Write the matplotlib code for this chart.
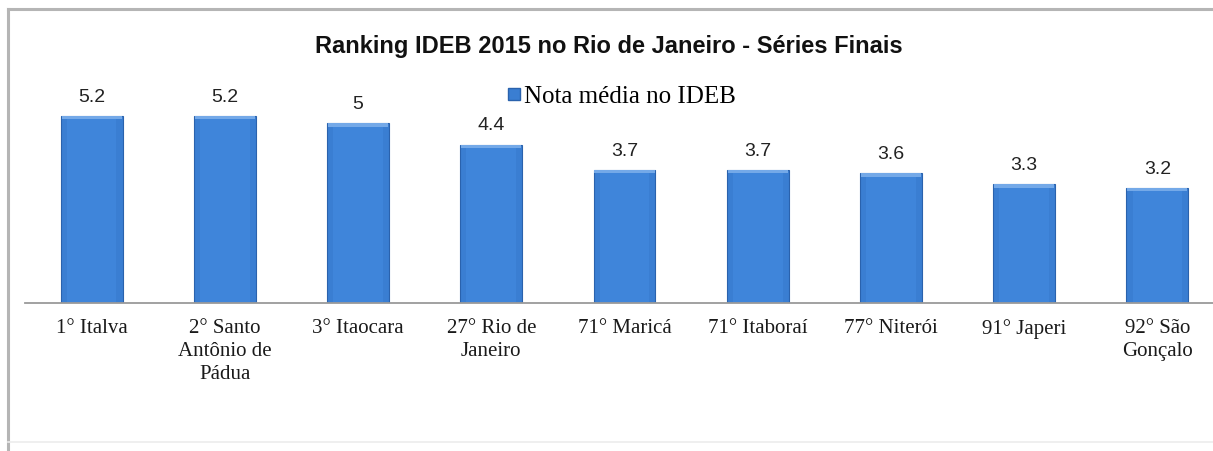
import matplotlib
matplotlib.use("Agg")
import matplotlib.pyplot as plt
from matplotlib.lines import Line2D

categories = ["1° Italva", "2° Santo\nAntônio de\nPádua", "3° Itaocara", "27° Rio de\nJaneiro",
              "71° Maricá", "71° Itaboraí", "77° Niterói", "91° Japeri", "92° São\nGonçalo"]
values = [5.2, 5.2, 5.0, 4.4, 3.7, 3.7, 3.6, 3.3, 3.2]
value_labels = ["5.2", "5.2", "5", "4.4", "3.7", "3.7", "3.6", "3.3", "3.2"]
series_name = "Nota média no IDEB"
title = "Ranking IDEB 2015 no Rio de Janeiro - Séries Finais"

W, H = 1213, 452
fig = plt.figure(figsize=(W / 100, H / 100), dpi=100)
fig.patch.set_facecolor("white")

# outer frame
fig.add_artist(Line2D([8 / W, 8 / W], [0, 1 - 10 / H], color="#b5b5b5", lw=2.2))
fig.add_artist(Line2D([8 / W, 1], [1 - 10 / H, 1 - 10 / H], color="#b5b5b5", lw=2.2))
fig.add_artist(Line2D([8 / W, 1], [1 - 443 / H, 1 - 443 / H], color="#ececec", lw=1.2))

ax = fig.add_axes([25 / W, (H - 304) / H, 1199 / W, 216 / H])
ax.set_xlim(-0.5, len(values) - 0.5)
ax.set_ylim(0, 6)

x = list(range(len(values)))
bw = 0.465
ax.bar(x, values, width=bw, color="#3a7ed2", edgecolor="#2a62ad", linewidth=0.8, zorder=2)
ax.bar(x, values, width=bw * 0.8, color="#3f85da", edgecolor="none", zorder=2.5)
# lighter bevel on top of each bar
ax.bar(x, [0.1] * len(values), bottom=[v - 0.1 for v in values], width=bw * 0.97,
       color="#74a9e8", edgecolor="none", zorder=3)

for xi, v, lab in zip(x, values, value_labels):
    ax.annotate(lab, (xi, v), xytext=(0, 8), textcoords="offset points",
                ha="center", va="bottom", fontsize=14, family="Liberation Sans", color="#222222")

for s in ["top", "right", "left"]:
    ax.spines[s].set_visible(False)
ax.spines["bottom"].set_color("#9a9a9a")
ax.spines["bottom"].set_linewidth(1.3)
ax.set_yticks([])
ax.set_xticks(x)
ax.set_xticklabels(categories, family="Liberation Serif", fontsize=15, color="#1a1a1a",
                   linespacing=1.28)
ax.tick_params(axis="x", length=0, pad=11)
ax.patch.set_alpha(0)

fig.text(609 / W, 1 - 46 / H, title, ha="center", va="center", fontsize=17,
         fontweight="bold", family="Liberation Sans", color="#111111")

handle = Line2D([], [], marker="s", linestyle="none", markersize=8,
                markerfacecolor="#3a7ed2", markeredgecolor="#2a62ad")
fig.legend([handle], [series_name], loc="center",
           bbox_to_anchor=(622 / W, 1 - 97 / H), frameon=False,
           prop={"family": "Liberation Serif", "size": 18},
           handlelength=0.5, handletextpad=0.15, borderpad=0)

fig.savefig("out.png", dpi=100)
